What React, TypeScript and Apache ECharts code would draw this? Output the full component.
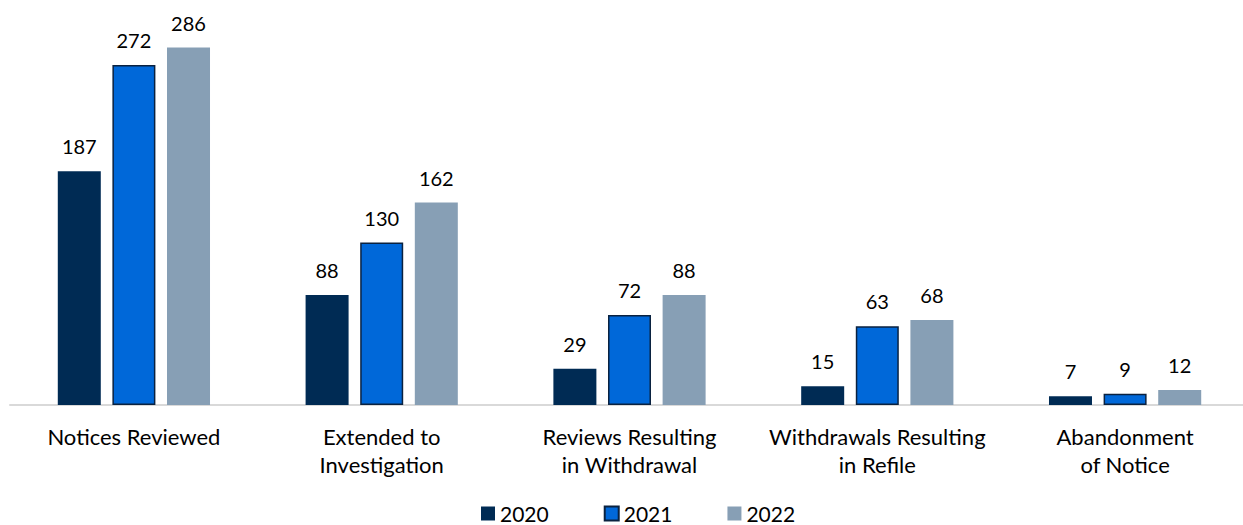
import React, { useEffect, useRef } from "react";
import * as echarts from "echarts";

const categories = [
  "Notices Reviewed",
  "Extended to\nInvestigation",
  "Reviews Resulting\nin Withdrawal",
  "Withdrawals Resulting\nin Refile",
  "Abandonment\nof Notice",
];
const seriesNames = ["2020", "2021", "2022"];
const values2020 = [187, 88, 29, 15, 7];
const values2021 = [272, 130, 72, 63, 9];
const values2022 = [286, 162, 88, 68, 12];

const FONT = "Lato, 'Open Sans', sans-serif";

export default function App() {
  const ref = useRef<HTMLDivElement>(null);
  useEffect(() => {
    if (!ref.current) return;
    const chart = echarts.init(ref.current, null, { renderer: "svg" });
    const label = {
      show: true,
      position: "top",
      distance: 15,
      color: "#000",
      fontSize: 20,
      fontFamily: FONT,
    };
    chart.setOption({
      animation: false,
      grid: {
        left: 10,
        width: 1239,
        top: 30,
        height: 375,
        containLabel: false,
        outerBoundsMode: "none",
      },
      legend: {
        top: 498,
        left: 476,
        icon: "rect",
        itemWidth: 14,
        itemHeight: 14,
        itemGap: 55,
        textStyle: { fontSize: 21, color: "#000", fontFamily: FONT },
        data: seriesNames,
      },
      xAxis: {
        type: "category",
        data: categories,
        axisLine: { show: true, lineStyle: { color: "#d9d9d9", width: 2 } },
        axisTick: { show: false },
        axisLabel: {
          color: "#000",
          fontSize: 22,
          fontFamily: FONT,
          margin: 17,
          lineHeight: 28,
          interval: 0,
        },
      },
      yAxis: {
        type: "value",
        min: 0,
        max: 300,
        show: false,
        splitLine: { show: false },
      },
      series: [
        {
          name: seriesNames[0],
          type: "bar",
          data: values2020,
          barWidth: 43,
          barGap: "27%",
          itemStyle: { color: "#002B54" },
          label,
        },
        {
          name: seriesNames[1],
          type: "bar",
          data: values2021,
          barWidth: 43,
          barGap: "27%",
          itemStyle: { color: "#0068D9", borderColor: "#0A2240", borderWidth: 1.5 },
          label,
        },
        {
          name: seriesNames[2],
          type: "bar",
          data: values2022,
          barWidth: 43,
          barGap: "27%",
          itemStyle: { color: "#879FB5" },
          label,
        },
      ],
    });
    return () => chart.dispose();
  }, []);
  return (
    <div
      ref={ref}
      style={{ position: "fixed", left: 0, top: 0, width: 1243, height: 525, background: "#fff" }}
    />
  );
}
